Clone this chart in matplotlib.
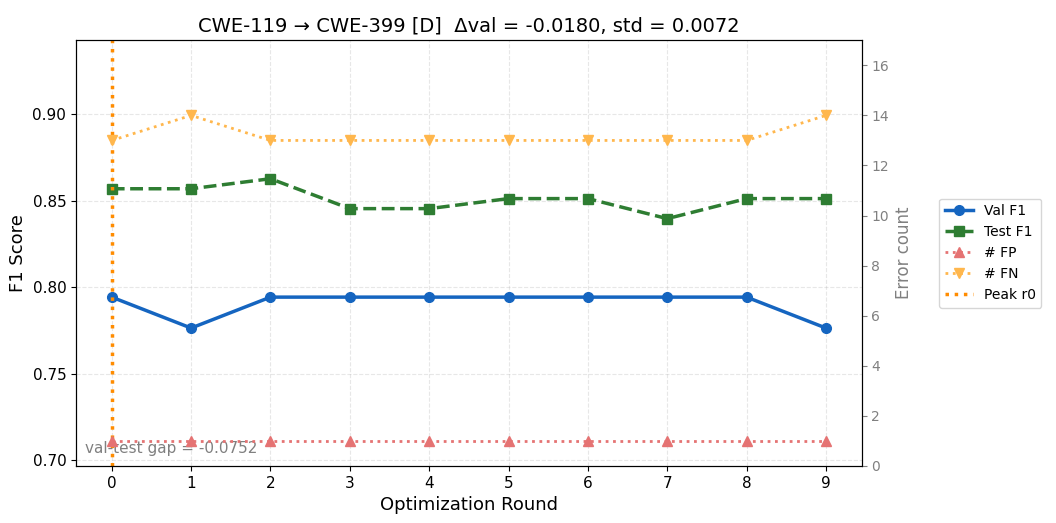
import matplotlib
matplotlib.use("Agg")
import matplotlib.pyplot as plt

rounds = [0, 1, 2, 3, 4, 5, 6, 7, 8, 9]
val_f1 = [0.7942, 0.7763, 0.7942, 0.7942, 0.7942, 0.7942, 0.7942, 0.7942, 0.7942, 0.7763]
test_f1 = [0.8569, 0.8569, 0.8627, 0.8454, 0.8454, 0.8512, 0.8512, 0.8396, 0.8512, 0.8512]
n_fp = [1, 1, 1, 1, 1, 1, 1, 1, 1, 1]
n_fn = [13, 14, 13, 13, 13, 13, 13, 13, 13, 14]
peak_round = 0
gap = -0.0752

fig, ax = plt.subplots(figsize=(10.56, 5.23), dpi=100)
ax2 = ax.twinx()

l1, = ax.plot(rounds, val_f1, color='#1565C0', marker='o', linewidth=2.5, markersize=7, label='Val F1')
l2, = ax.plot(rounds, test_f1, color='#2E7D32', marker='s', linestyle='--', linewidth=2.5, markersize=7, label='Test F1')
l3, = ax2.plot(rounds, n_fp, color='#E57373', marker='^', linestyle=':', linewidth=2, markersize=7, label='# FP')
l4, = ax2.plot(rounds, n_fn, color='#FFB74D', marker='v', linestyle=':', linewidth=2, markersize=7, label='# FN')
l5 = ax.axvline(peak_round, color='#FF8C00', linestyle=':', linewidth=2.5, label='Peak r0')

ax.set_ylim(0.6965, 0.9428)
ax2.set_ylim(0, 17)
ax.set_xticks(rounds)
ax.set_xlabel('Optimization Round', fontsize=13)
ax.set_ylabel('F1 Score', fontsize=13)
ax2.set_ylabel('Error count', fontsize=12, color='gray')
ax2.tick_params(axis='y', colors='gray')
ax.tick_params(labelsize=11)
ax.grid(True, linestyle='--', alpha=0.3)
ax.set_title('CWE-119 \u2192 CWE-399 [D]  \u0394val = -0.0180, std = 0.0072', fontsize=14)

ax.text(0.012, 0.03, f'val-test gap = {gap:.4f}', transform=ax.transAxes,
        fontsize=11, color='gray')

ax.legend(handles=[l1, l2, l3, l4, l5], loc='center left', bbox_to_anchor=(1.09, 0.5), fontsize=10)

plt.subplots_adjust(left=0.072, right=0.816, top=0.923, bottom=0.109)
plt.savefig('out.png')
